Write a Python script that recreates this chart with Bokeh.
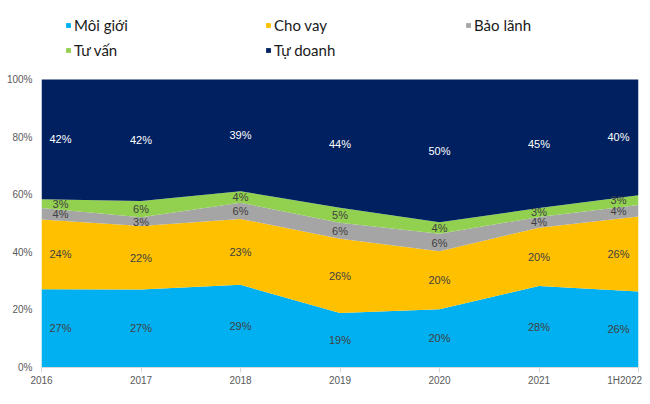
from bokeh.plotting import figure
from bokeh.models import (ColumnDataSource, Range1d, FixedTicker, PrintfTickFormatter,
                          Legend, LegendItem)
from bokeh.core.properties import value
from bokeh.embed import file_html
from bokeh.resources import INLINE

# ---- data (shares, %) ----
years = ["2016", "2017", "2018", "2019", "2020", "2021", "1H2022"]
moi_gioi = [27.2, 27.1, 28.7, 18.9, 20.2, 28.3, 26.4]
cho_vay = [24.2, 22.0, 22.9, 25.8, 20.2, 20.2, 26.0]
bao_lanh = [4.0, 3.1, 5.6, 5.6, 6.0, 3.8, 4.0]
tu_van = [3.0, 5.6, 4.0, 5.2, 4.0, 3.1, 3.4]
tu_doanh = [41.6, 42.2, 38.8, 44.5, 49.6, 44.6, 40.2]

series_keys = ["moi_gioi", "cho_vay", "bao_lanh", "tu_van", "tu_doanh"]
series_names = ["Môi giới", "Cho vay", "Bảo lãnh", "Tư vấn", "Tự doanh"]
series_vals = [moi_gioi, cho_vay, bao_lanh, tu_van, tu_doanh]
colors = ["#00B0F0", "#FFC000", "#A5A5A5", "#92D050", "#002060"]

# frame extends up to the top of the canvas so the legend can live above the chart
FRAME_H = 367      # px, frame height (canvas top to x axis)
PLOT_H = 288       # px, height that 0..100% occupies
xs = list(range(len(years)))
src = ColumnDataSource(dict(x=xs, **{k: v for k, v in zip(series_keys, series_vals)}))

p = figure(width=650, height=404, output_backend="svg", toolbar_location=None,
           x_range=Range1d(0, len(years) - 1),
           y_range=Range1d(0, 100 * FRAME_H / PLOT_H),
           min_border_left=41, min_border_right=12, min_border_top=0, min_border_bottom=37)

renderers = p.varea_stack(stackers=series_keys, x="x", color=colors, source=src)

# ---- data labels at band centres ----
x_off_col = [19, 0, 0, 0, 0, 0, -20]
lx, ly, lt, lc, lo = [], [], [], [], []
cum = [0.0] * len(years)
for si, vals in enumerate(series_vals):
    for i, v in enumerate(vals):
        lx.append(xs[i])
        ly.append(cum[i] + v / 2)
        lt.append(f"{round(v):d}%")
        lc.append("#FFFFFF" if si == len(series_vals) - 1 else "#404040")
        lo.append(x_off_col[i])
        cum[i] += v
lab = ColumnDataSource(dict(x=lx, y=ly, t=lt, c=lc, o=lo))
p.text(x="x", y="y", text="t", source=lab, text_color="c", x_offset="o",
       text_align="center", text_baseline="middle", text_font_size="11px",
       text_font=value("Liberation Sans"))

# ---- axes ----
p.xgrid.visible = False
p.ygrid.visible = False
p.outline_line_color = None

xa = p.xaxis[0]
xa.ticker = FixedTicker(ticks=xs)
over = {i: y for i, y in enumerate(years)}
over[len(years) - 1] = years[-1] + "\u00a0" * 3
xa.major_label_overrides = over
xa.axis_line_color = "#D9D9D9"
xa.major_tick_line_color = "#D9D9D9"
xa.major_tick_in = 0
xa.major_tick_out = 5
xa.minor_tick_line_color = None
xa.major_label_standoff = 2
xa.major_label_text_font = "Liberation Sans"
xa.major_label_text_font_size = "10px"
xa.major_label_text_color = "#595959"

ya = p.yaxis[0]
ya.ticker = FixedTicker(ticks=[0, 20, 40, 60, 80, 100])
ya.formatter = PrintfTickFormatter(format="%d%%")
ya.axis_line_color = None
ya.major_tick_line_color = None
ya.major_tick_in = 0
ya.major_tick_out = 0
ya.minor_tick_line_color = None
ya.major_label_standoff = 9
ya.major_label_text_font = "Liberation Sans"
ya.major_label_text_font_size = "10px"
ya.major_label_text_color = "#595959"

# ---- legend ----
items = [LegendItem(label=n, renderers=[r]) for n, r in zip(series_names, renderers)]
legend = Legend(items=items, location=(24, 307), orientation="horizontal", ncols=3,
                glyph_width=6, glyph_height=6, label_standoff=3, label_width=186,
                label_height=20, spacing=5, padding=0, margin=0,
                border_line_color=None, background_fill_alpha=0,
                label_text_font="Lato", label_text_font_size="15px",
                label_text_color="#1A1A1A")
p.add_layout(legend)

open("out.html", "w").write(file_html(p, INLINE))
